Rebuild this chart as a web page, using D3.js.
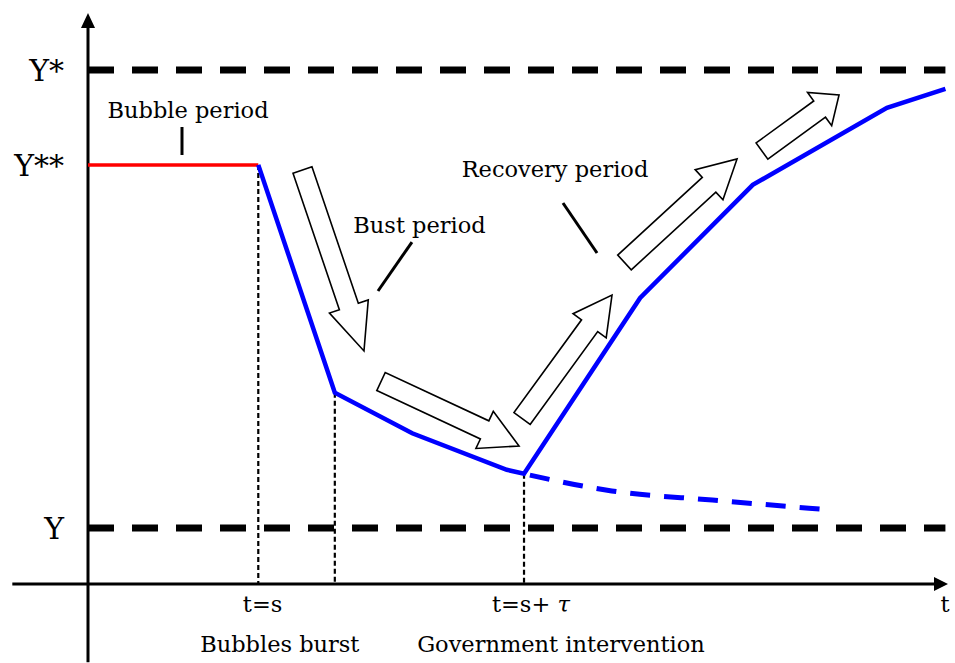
<!DOCTYPE html>
<html>
<head>
<meta charset="utf-8">
<script src="https://cdn.jsdelivr.net/npm/d3@7"></script>
<style>
  body { margin: 0; background: #fff; }
  svg { display: block; }
  text { font-family: "DejaVu Serif", serif; fill: #000; }
</style>
</head>
<body>
<svg></svg>
<script>
// Reference levels on the vertical axis
const levelLabels = ["Y*", "Y**", "Y"];
const levelValues = [9.0, 7.34, 0.98];

// Bubble period (flat red segment)
const bubbleT = [0, 1.98];
const bubbleY = [7.34, 7.34];

// Output path with intervention (solid blue)
const pathT = [1.98, 2.87, 3.77, 4.87, 5.07, 6.42, 7.73, 9.29, 9.97];
const pathY = [7.34, 3.35, 2.64, 2.0, 1.93, 5.01, 6.99, 8.34, 8.67];

// Output path without intervention (dashed blue)
const noPolicyT = [5.07, 6.09, 7.26, 8.53];
const noPolicyY = [1.93, 1.63, 1.47, 1.31];

// Vertical guide lines (bottom of the curve at each event)
const guideT = [1.98, 2.87, 5.07];
const guideY = [7.34, 3.35, 1.93];

// Event labels under the time axis
const eventLabels = ["t=s", "t=s+ "];
const eventT = [2.03, 5.15];
const eventNames = ["Bubbles burst", "Government intervention"];
const eventNameT = [2.23, 5.5];

// Period annotations and their leader lines
const periodLabels = ["Bubble period", "Bust period", "Recovery period"];
const periodT = [1.163, 3.855, 5.43];
const periodY = [8.161, 6.147, 7.128];
const leaderT1 = [1.093, 3.767, 5.523];
const leaderY1 = [8.004, 5.989, 6.673];
const leaderT2 = [1.093, 3.372, 5.919];
const leaderY2 = [7.513, 5.131, 5.797];

// Hollow block arrows (tail centre -> tip)
const arrowTailT = [2.494, 3.407, 5.047, 6.238, 7.837];
const arrowTailY = [7.25, 3.546, 2.898, 5.63, 7.583];
const arrowTipT = [3.209, 5.012, 6.093, 7.547, 8.733];
const arrowTipY = [4.081, 2.417, 5.061, 7.443, 8.564];
const arrowHeadLen = [47, 38, 38, 38, 24];

// Setting the dimensions
const width = 955;
const height = 663;

const svg = d3.select("svg").attr("width", width).attr("height", height);

// Scales (arbitrary schematic units)
const x = d3.scaleLinear().domain([0, 10]).range([88, 948]);
const y = d3.scaleLinear().domain([0, 10]).range([584, 13]);

const line = d3
  .line()
  .x((d) => x(d[0]))
  .y((d) => y(d[1]));

const smoothLine = d3
  .line()
  .x((d) => x(d[0]))
  .y((d) => y(d[1]))
  .curve(d3.curveMonotoneX);

// Horizontal dashed reference levels
svg
  .selectAll("line.level")
  .data(levelValues.filter((v, i) => levelLabels[i] !== "Y**"))
  .enter()
  .append("line")
  .attr("class", "level")
  .attr("x1", x(0))
  .attr("x2", x(9.97))
  .attr("y1", (d) => y(d))
  .attr("y2", (d) => y(d))
  .attr("stroke", "#000")
  .attr("stroke-width", 7)
  .attr("stroke-dasharray", "26,18");

// Level labels
svg
  .selectAll("text.level")
  .data(levelLabels)
  .enter()
  .append("text")
  .attr("class", "level")
  .attr("x", 64)
  .attr("y", (d, i) => y(levelValues[i]) + 11)
  .attr("text-anchor", "end")
  .style("font-size", "30px")
  .text((d) => d);

// Vertical dotted guides
svg
  .selectAll("line.guide")
  .data(guideT)
  .enter()
  .append("line")
  .attr("x1", (d) => x(d))
  .attr("x2", (d) => x(d))
  .attr("y1", (d, i) => y(guideY[i]))
  .attr("y2", y(0))
  .attr("stroke", "#000")
  .attr("stroke-width", 2.2)
  .attr("stroke-dasharray", "5,3");

// Axes
svg
  .append("line")
  .attr("x1", x(-0.88))
  .attr("x2", x(10) - 12)
  .attr("y1", y(0))
  .attr("y2", y(0))
  .attr("stroke", "#000")
  .attr("stroke-width", 3);
svg
  .append("line")
  .attr("x1", x(0))
  .attr("x2", x(0))
  .attr("y1", y(-1.37))
  .attr("y2", y(10) + 12)
  .attr("stroke", "#000")
  .attr("stroke-width", 3);
svg
  .append("path")
  .attr(
    "d",
    `M${x(10)},${y(0)} L${x(10) - 14},${y(0) - 7} L${x(10) - 14},${y(0) + 7} Z`
  )
  .attr("fill", "#000");
svg
  .append("path")
  .attr(
    "d",
    `M${x(0)},${y(10)} L${x(0) - 7},${y(10) + 15} L${x(0) + 7},${y(10) + 15} Z`
  )
  .attr("fill", "#000");

// Bubble period segment
svg
  .append("path")
  .attr("d", line(d3.zip(bubbleT, bubbleY)))
  .attr("fill", "none")
  .attr("stroke", "#ff0000")
  .attr("stroke-width", 3.5);

// Path with intervention
svg
  .append("path")
  .attr("d", line(d3.zip(pathT, pathY)))
  .attr("fill", "none")
  .attr("stroke", "#0000ff")
  .attr("stroke-width", 4.5);

// Path without intervention
svg
  .append("path")
  .attr("d", smoothLine(d3.zip(noPolicyT, noPolicyY)))
  .attr("fill", "none")
  .attr("stroke", "#0000ff")
  .attr("stroke-width", 5)
  .attr("stroke-dasharray", "20,14")
  .attr("stroke-dashoffset", -6);

// Hollow block arrows
const shaftHalf = 10;
const headHalf = 20.5;
function arrowPoints(i) {
  const p0 = [x(arrowTailT[i]), y(arrowTailY[i])];
  const p1 = [x(arrowTipT[i]), y(arrowTipY[i])];
  const len = Math.hypot(p1[0] - p0[0], p1[1] - p0[1]);
  const u = [(p1[0] - p0[0]) / len, (p1[1] - p0[1]) / len];
  const n = [-u[1], u[0]];
  const hl = arrowHeadLen[i];
  const b = [p1[0] - hl * u[0], p1[1] - hl * u[1]];
  const pt = (p, k) => [p[0] + k * n[0], p[1] + k * n[1]];
  return [
    pt(p0, shaftHalf),
    pt(b, shaftHalf),
    pt(b, headHalf),
    p1,
    pt(b, -headHalf),
    pt(b, -shaftHalf),
    pt(p0, -shaftHalf),
  ];
}
svg
  .selectAll("polygon.arrow")
  .data(arrowTailT.map((d, i) => i))
  .enter()
  .append("polygon")
  .attr("points", (i) => arrowPoints(i).map((p) => p.join(",")).join(" "))
  .attr("fill", "#fff")
  .attr("stroke", "#000")
  .attr("stroke-width", 1.6)
  .attr("stroke-linejoin", "miter");

// Period labels and leader lines
svg
  .selectAll("text.period")
  .data(periodLabels)
  .enter()
  .append("text")
  .attr("x", (d, i) => x(periodT[i]))
  .attr("y", (d, i) => y(periodY[i]))
  .attr("text-anchor", "middle")
  .style("font-size", "22.5px")
  .text((d) => d);
svg
  .selectAll("line.leader")
  .data(periodLabels)
  .enter()
  .append("line")
  .attr("x1", (d, i) => x(leaderT1[i]))
  .attr("y1", (d, i) => y(leaderY1[i]))
  .attr("x2", (d, i) => x(leaderT2[i]))
  .attr("y2", (d, i) => y(leaderY2[i]))
  .attr("stroke", "#000")
  .attr("stroke-width", 3);

// Event labels under the axis
const ev = svg
  .selectAll("text.event")
  .data(eventLabels)
  .enter()
  .append("text")
  .attr("x", (d, i) => x(eventT[i]))
  .attr("y", 612)
  .attr("text-anchor", "middle")
  .style("font-size", "22.5px")
  .text((d) => d);
ev.filter((d, i) => i === 1)
  .append("tspan")
  .style("font-style", "italic")
  .text("τ");

svg
  .selectAll("text.eventName")
  .data(eventNames)
  .enter()
  .append("text")
  .attr("x", (d, i) => x(eventNameT[i]))
  .attr("y", 652)
  .attr("text-anchor", "middle")
  .style("font-size", "22.5px")
  .text((d) => d);

// Time axis label
svg
  .append("text")
  .attr("x", x(10) - 3)
  .attr("y", 612)
  .attr("text-anchor", "middle")
  .style("font-size", "22.5px")
  .text("t");
</script>
</body>
</html>
